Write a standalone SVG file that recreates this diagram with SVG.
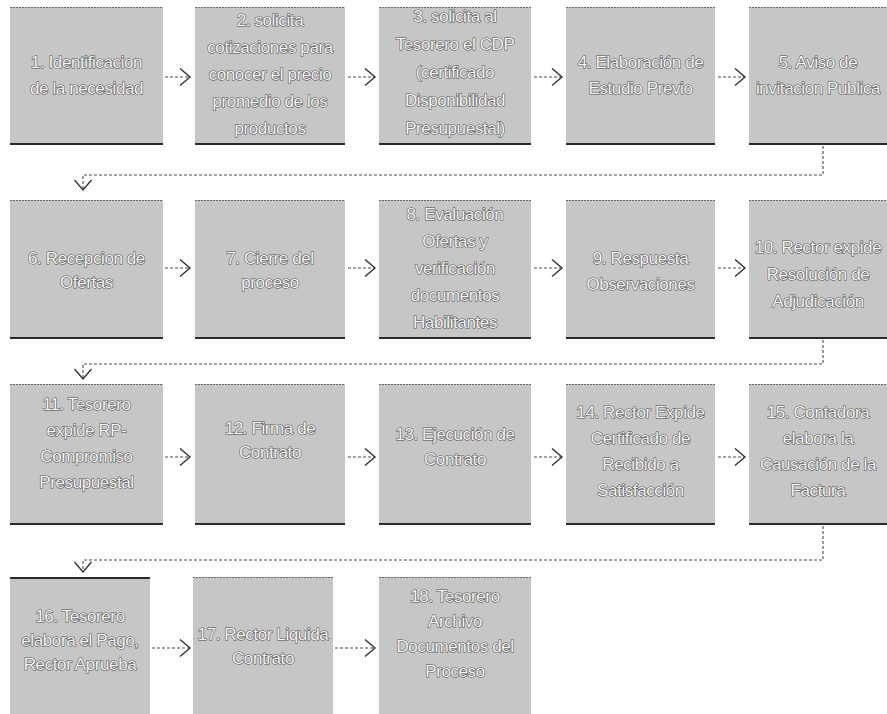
<svg xmlns="http://www.w3.org/2000/svg" width="887" height="714" viewBox="0 0 887 714">
<defs>
<style>
.box{fill:#c6c6c6}
.bt{stroke:#6a6a6a;stroke-width:1;stroke-dasharray:2 1}
.bb{stroke:#2a2a2a;stroke-width:2}
.lbl{font-family:"Liberation Sans",Arial,sans-serif;font-size:17px;letter-spacing:-0.4px;text-anchor:middle;fill:#f6f6f6;stroke:#4a4a4a;stroke-width:1.1px;paint-order:stroke fill}
.cn{fill:none;stroke:#4a4a4a;stroke-width:1.1;stroke-dasharray:3 2}
</style>
<marker id="chev" viewBox="0 0 13 19" refX="11" refY="9.5" markerWidth="13" markerHeight="19" markerUnits="userSpaceOnUse" orient="auto">
<path d="M1,1 L11,9.5 L1,18" fill="none" stroke="#333" stroke-width="1.4"/>
</marker>
</defs>
<rect width="887" height="714" fill="#ffffff"/>

<g id="connectors">
<path class="cn" d="M165,77 H190" marker-end="url(#chev)"/>
<path class="cn" d="M348,77 H375" marker-end="url(#chev)"/>
<path class="cn" d="M534,77 H562" marker-end="url(#chev)"/>
<path class="cn" d="M718,77 H745" marker-end="url(#chev)"/>
<path class="cn" d="M823,146 V175 H83 V190" marker-end="url(#chev)"/>
<path class="cn" d="M165,268 H190" marker-end="url(#chev)"/>
<path class="cn" d="M348,268 H375" marker-end="url(#chev)"/>
<path class="cn" d="M534,268 H562" marker-end="url(#chev)"/>
<path class="cn" d="M718,268 H745" marker-end="url(#chev)"/>
<path class="cn" d="M823,340 V364 H83 V379" marker-end="url(#chev)"/>
<path class="cn" d="M165,457 H190" marker-end="url(#chev)"/>
<path class="cn" d="M348,457 H375" marker-end="url(#chev)"/>
<path class="cn" d="M534,457 H562" marker-end="url(#chev)"/>
<path class="cn" d="M718,457 H745" marker-end="url(#chev)"/>
<path class="cn" d="M823,526 V560 H83 V572" marker-end="url(#chev)"/>
<path class="cn" d="M152,648 H190" marker-end="url(#chev)"/>
<path class="cn" d="M335,648 H375" marker-end="url(#chev)"/>
</g>

<g id="n1"><rect class="box" x="10" y="7" width="153" height="138"/><line class="bt" x1="10" y1="7.5" x2="163" y2="7.5"/><line class="bb" x1="10" y1="144" x2="163" y2="144"/>
<text class="lbl"><tspan x="86.5" y="68">1. Identificacion</tspan><tspan x="86.5" y="94">de la necesidad</tspan></text></g>
<g id="n2"><rect class="box" x="195" y="7" width="150" height="138"/><line class="bt" x1="195" y1="7.5" x2="345" y2="7.5"/><line class="bb" x1="195" y1="144" x2="345" y2="144"/>
<text class="lbl"><tspan x="270" y="26">2. solicita</tspan><tspan x="270" y="53">cotizaciones para</tspan><tspan x="270" y="80">conocer el precio</tspan><tspan x="270" y="107">promedio de los</tspan><tspan x="270" y="134">productos</tspan></text></g>
<g id="n3"><rect class="box" x="379" y="7" width="152" height="138"/><line class="bt" x1="379" y1="7.5" x2="531" y2="7.5"/><line class="bb" x1="379" y1="144" x2="531" y2="144"/>
<text class="lbl"><tspan x="455" y="22">3. solicita al</tspan><tspan x="455" y="50">Tesorero el CDP</tspan><tspan x="455" y="78">(certificado</tspan><tspan x="455" y="106">Disponibilidad</tspan><tspan x="455" y="134">Presupuestal)</tspan></text></g>
<g id="n4"><rect class="box" x="566" y="7" width="149" height="138"/><line class="bt" x1="566" y1="7.5" x2="715" y2="7.5"/><line class="bb" x1="566" y1="144" x2="715" y2="144"/>
<text class="lbl"><tspan x="640.5" y="68">4. Elaboración de</tspan><tspan x="640.5" y="94">Estudio Previo</tspan></text></g>
<g id="n5"><rect class="box" x="749" y="7" width="138" height="138"/><line class="bt" x1="749" y1="7.5" x2="887" y2="7.5"/><line class="bb" x1="749" y1="144" x2="887" y2="144"/>
<text class="lbl"><tspan x="818" y="68">5. Aviso de</tspan><tspan x="818" y="94">invitacion Publica</tspan></text></g>

<g id="n6"><rect class="box" x="10" y="200" width="153" height="139"/><line class="bt" x1="10" y1="200.5" x2="163" y2="200.5"/><line class="bb" x1="10" y1="338" x2="163" y2="338"/>
<text class="lbl"><tspan x="86.5" y="264">6. Recepcion de</tspan><tspan x="86.5" y="288">Ofertas</tspan></text></g>
<g id="n7"><rect class="box" x="195" y="200" width="150" height="139"/><line class="bt" x1="195" y1="200.5" x2="345" y2="200.5"/><line class="bb" x1="195" y1="338" x2="345" y2="338"/>
<text class="lbl"><tspan x="270" y="264">7. Cierre del</tspan><tspan x="270" y="288">proceso</tspan></text></g>
<g id="n8"><rect class="box" x="379" y="200" width="152" height="139"/><line class="bt" x1="379" y1="200.5" x2="531" y2="200.5"/><line class="bb" x1="379" y1="338" x2="531" y2="338"/>
<text class="lbl"><tspan x="455" y="220">8. Evaluación</tspan><tspan x="455" y="247">Ofertas y</tspan><tspan x="455" y="274">verificación</tspan><tspan x="455" y="301">documentos</tspan><tspan x="455" y="328">Habilitantes</tspan></text></g>
<g id="n9"><rect class="box" x="566" y="200" width="149" height="139"/><line class="bt" x1="566" y1="200.5" x2="715" y2="200.5"/><line class="bb" x1="566" y1="338" x2="715" y2="338"/>
<text class="lbl"><tspan x="640.5" y="264">9. Respuesta</tspan><tspan x="640.5" y="290">Observaciones</tspan></text></g>
<g id="n10"><rect class="box" x="749" y="200" width="138" height="139"/><line class="bt" x1="749" y1="200.5" x2="887" y2="200.5"/><line class="bb" x1="749" y1="338" x2="887" y2="338"/>
<text class="lbl"><tspan x="818" y="253">10. Rector expide</tspan><tspan x="818" y="280">Resolución de</tspan><tspan x="818" y="307">Adjudicación</tspan></text></g>

<g id="n11"><rect class="box" x="10" y="384" width="153" height="141"/><line class="bt" x1="10" y1="384.5" x2="163" y2="384.5"/><line class="bb" x1="10" y1="524" x2="163" y2="524"/>
<text class="lbl"><tspan x="86.5" y="410">11. Tesorero</tspan><tspan x="86.5" y="436">expide RP-</tspan><tspan x="86.5" y="462">Compromiso</tspan><tspan x="86.5" y="488">Presupuestal</tspan></text></g>
<g id="n12"><rect class="box" x="195" y="384" width="150" height="141"/><line class="bt" x1="195" y1="384.5" x2="345" y2="384.5"/><line class="bb" x1="195" y1="524" x2="345" y2="524"/>
<text class="lbl"><tspan x="270" y="434">12. Firma de</tspan><tspan x="270" y="458">Contrato</tspan></text></g>
<g id="n13"><rect class="box" x="379" y="384" width="152" height="141"/><line class="bt" x1="379" y1="384.5" x2="531" y2="384.5"/><line class="bb" x1="379" y1="524" x2="531" y2="524"/>
<text class="lbl"><tspan x="455" y="440">13. Ejecución de</tspan><tspan x="455" y="465">Contrato</tspan></text></g>
<g id="n14"><rect class="box" x="566" y="384" width="149" height="141"/><line class="bt" x1="566" y1="384.5" x2="715" y2="384.5"/><line class="bb" x1="566" y1="524" x2="715" y2="524"/>
<text class="lbl"><tspan x="640.5" y="418">14. Rector Expide</tspan><tspan x="640.5" y="444">Certificado de</tspan><tspan x="640.5" y="470">Recibido a</tspan><tspan x="640.5" y="496">Satisfacción</tspan></text></g>
<g id="n15"><rect class="box" x="749" y="384" width="138" height="141"/><line class="bt" x1="749" y1="384.5" x2="887" y2="384.5"/><line class="bb" x1="749" y1="524" x2="887" y2="524"/>
<text class="lbl"><tspan x="818" y="418">15. Contadora</tspan><tspan x="818" y="444">elabora la</tspan><tspan x="818" y="470">Causación de la</tspan><tspan x="818" y="496">Factura</tspan></text></g>

<g id="n16"><rect class="box" x="10" y="577" width="140" height="137"/><line class="bb" x1="10" y1="578" x2="150" y2="578"/>
<text class="lbl"><tspan x="80" y="622">16. Tesorero</tspan><tspan x="80" y="646">elabora el Pago,</tspan><tspan x="80" y="670">Rector Aprueba</tspan></text></g>
<g id="n17"><rect class="box" x="193" y="577" width="140" height="137"/><line class="bt" x1="193" y1="577.5" x2="333" y2="577.5"/>
<text class="lbl"><tspan x="263" y="640">17. Rector Liquida</tspan><tspan x="263" y="664">Contrato</tspan></text></g>
<g id="n18"><rect class="box" x="379" y="577" width="152" height="137"/><line class="bt" x1="379" y1="577.5" x2="531" y2="577.5"/>
<text class="lbl"><tspan x="455" y="602">18. Tesorero</tspan><tspan x="455" y="627">Archivo</tspan><tspan x="455" y="652">Documentos del</tspan><tspan x="455" y="677">Proceso</tspan></text></g>
</svg>
